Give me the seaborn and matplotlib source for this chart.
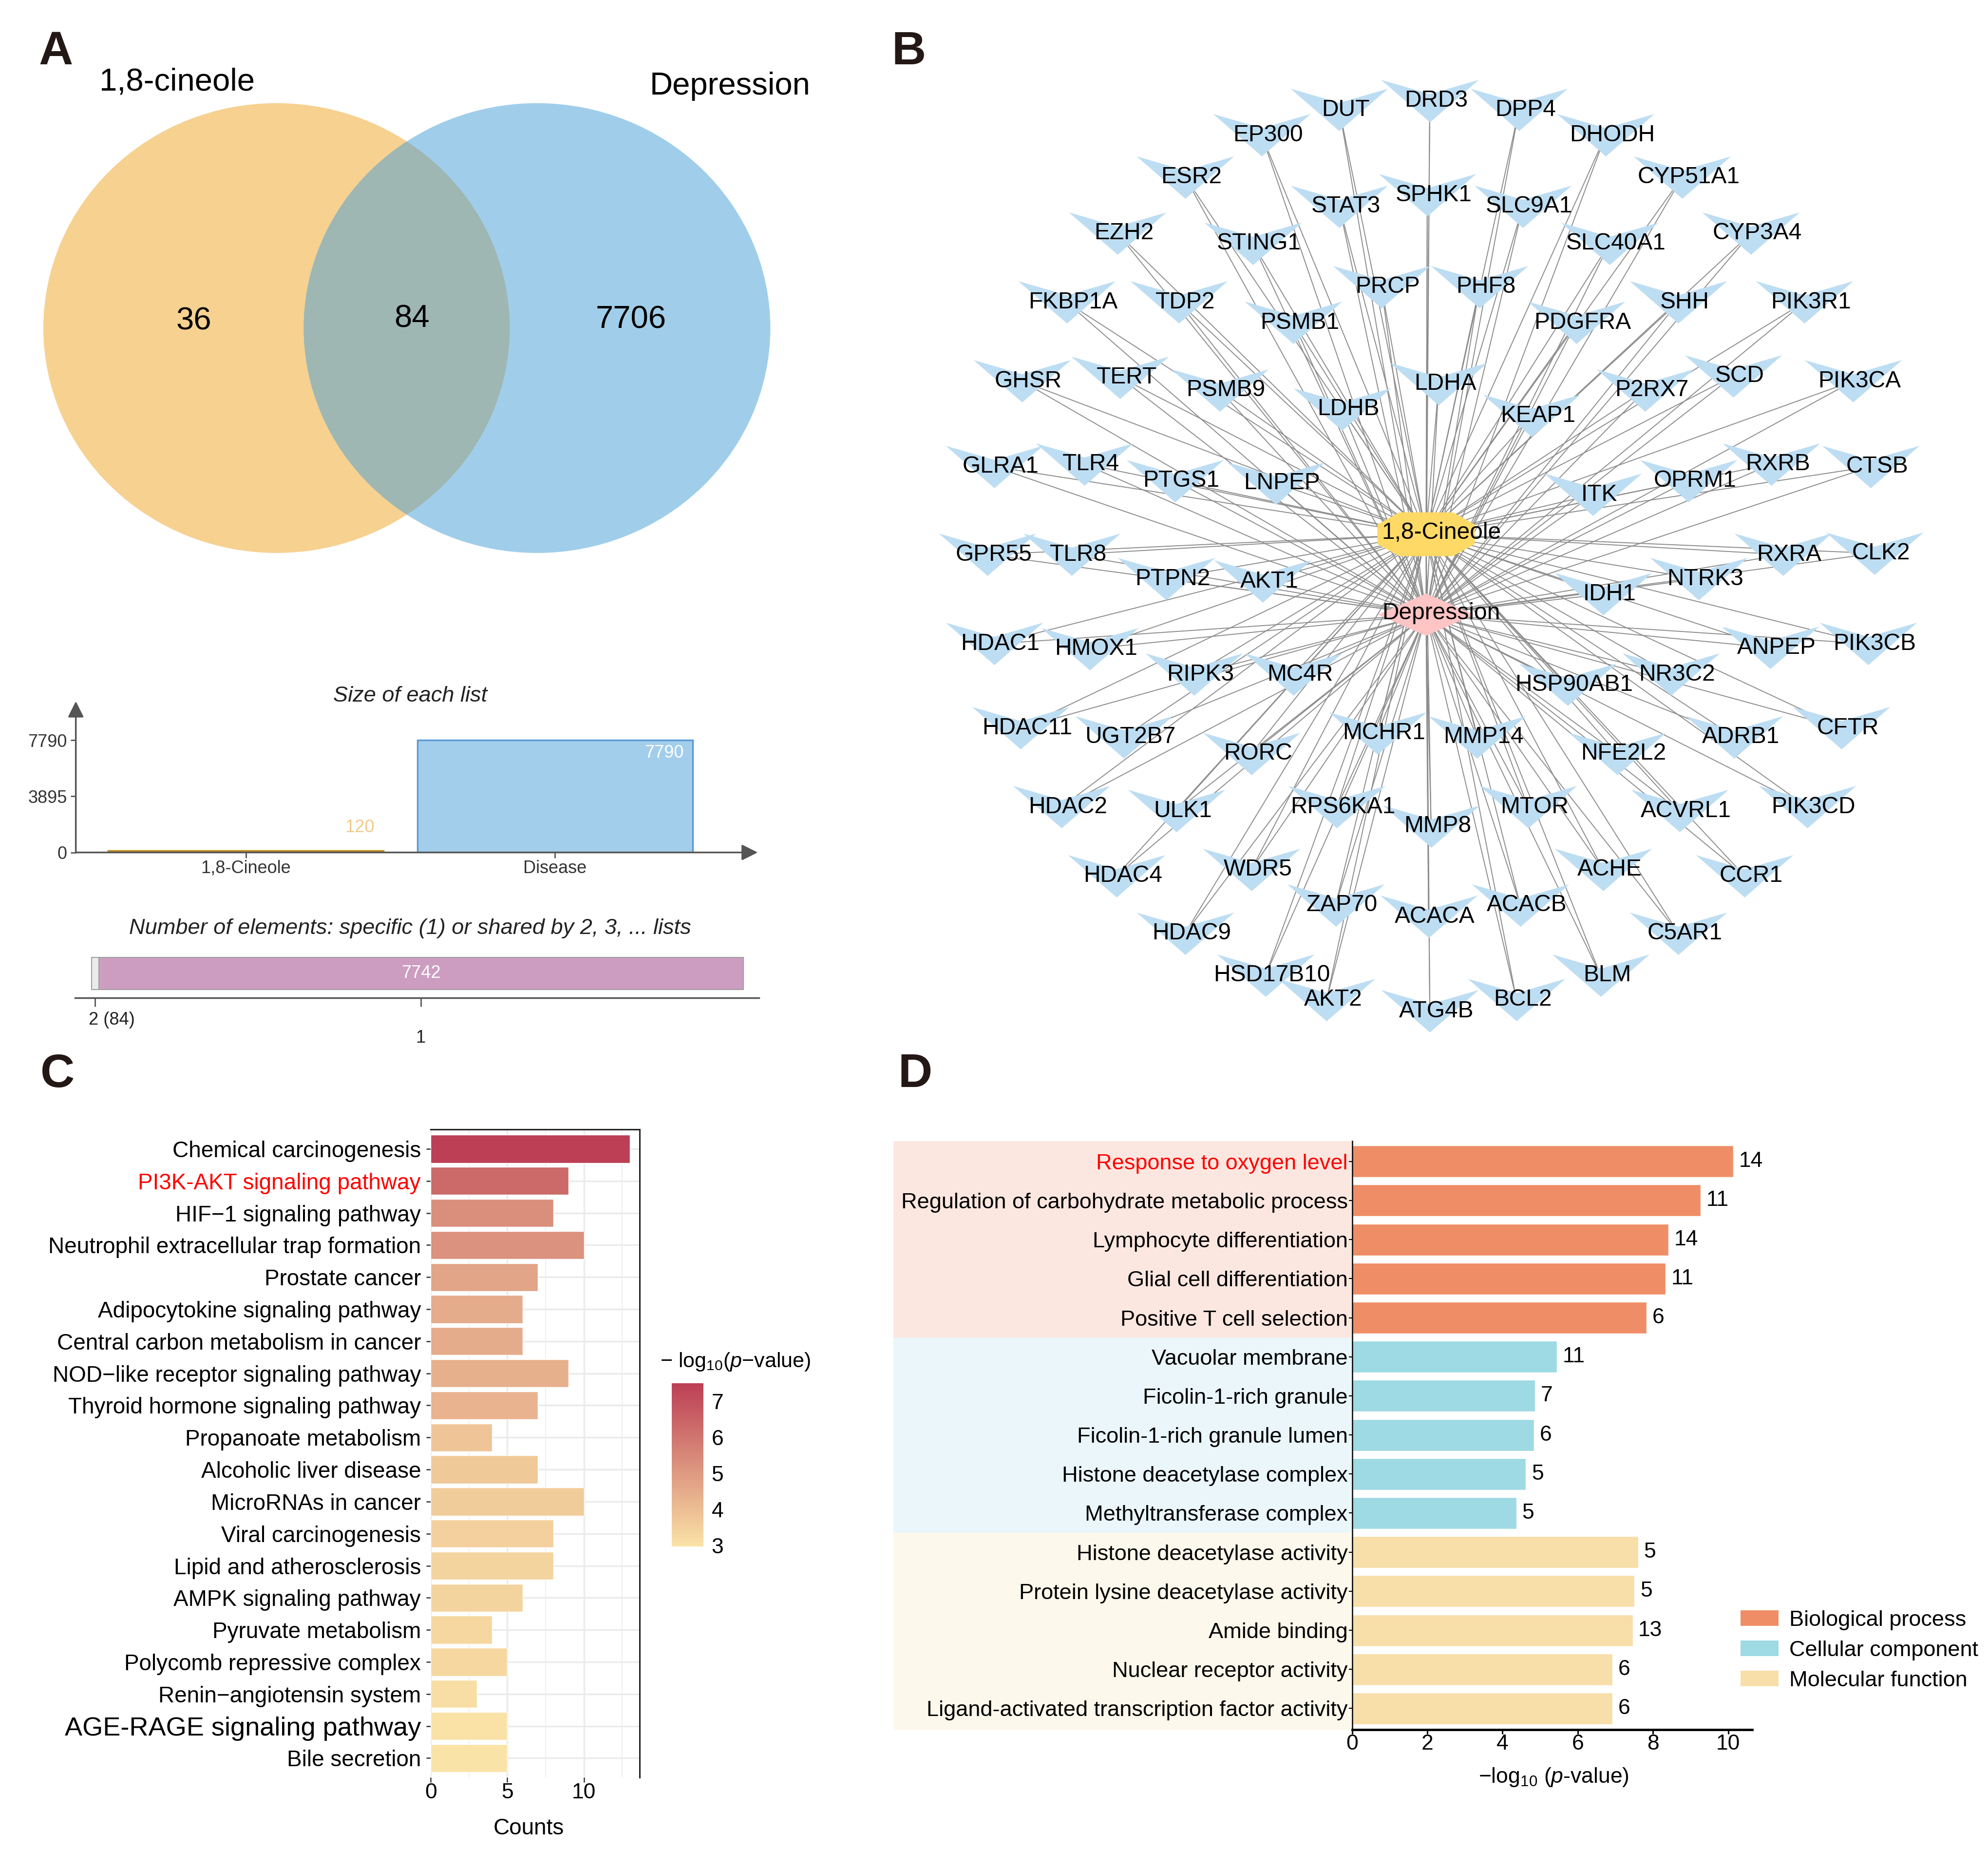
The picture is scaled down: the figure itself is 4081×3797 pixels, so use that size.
import numpy as np
import pandas as pd
import matplotlib
matplotlib.use("Agg")
import matplotlib.pyplot as plt
import seaborn as sns
from matplotlib.patches import Ellipse, Rectangle, Patch
from matplotlib.path import Path
from matplotlib.collections import LineCollection
from matplotlib.colors import LinearSegmentedColormap, Normalize
from matplotlib.cm import ScalarMappable
import matplotlib.transforms as mtransforms

# ------------------------------------------------------------------ data
venn_names = ["1,8-cineole", "Depression"]
venn_only_left = 36
venn_shared = 84
venn_only_right = 7706

list_names = ["1,8-Cineole", "Disease"]
list_sizes = [120, 7790]
list_ticks = [0, 3895, 7790]

share_levels = ["2 (84)", "1"]
share_counts = [84, 7742]

hub_names = ["1,8-Cineole", "Depression"]
hub_x = [1119, 1119]
hub_y = [419, 482]

target_names = [
    "DRD3", "DUT", "DPP4", "EP300", "DHODH", "ESR2", "CYP51A1", "EZH2", "CYP3A4",
    "FKBP1A", "PIK3R1", "GHSR", "PIK3CA", "GLRA1", "CTSB", "GPR55", "CLK2", "HDAC1",
    "PIK3CB", "HDAC11", "CFTR", "HDAC2", "PIK3CD", "HDAC4", "CCR1", "HDAC9", "C5AR1",
    "HSD17B10", "BLM", "AKT2", "BCL2", "ATG4B",
    "SPHK1", "STAT3", "SLC9A1", "STING1", "SLC40A1", "TDP2", "SHH", "TERT", "SCD",
    "TLR4", "RXRB", "TLR8", "RXRA", "HMOX1", "ANPEP", "UGT2B7", "ADRB1", "ULK1",
    "ACVRL1", "WDR5", "ACHE", "ZAP70", "ACACB", "ACACA",
    "PRCP", "PHF8", "PSMB1", "PDGFRA", "PSMB9", "P2RX7", "LDHB", "LDHA", "KEAP1",
    "PTGS1", "OPRM1", "LNPEP", "ITK", "PTPN2", "NTRK3", "AKT1", "IDH1", "RIPK3",
    "MC4R", "HSP90AB1", "NR3C2", "RORC", "NFE2L2", "MCHR1", "MMP14", "RPS6KA1",
    "MTOR", "MMP8"]
# layout positions of the target labels (network layout units)
target_x = [
    1127, 1056, 1197, 995, 1265, 935, 1325, 882, 1379,
    842, 1421, 807, 1459, 785, 1473, 780, 1476, 785,
    1471, 806, 1450, 838, 1423, 881, 1374, 935, 1322,
    998, 1261, 1046, 1195, 1127,
    1125, 1056, 1200, 988, 1268, 930, 1322, 884, 1365,
    856, 1395, 846, 1404, 860, 1394, 887, 1366, 928,
    1323, 987, 1263, 1053, 1198, 1126,
    1089, 1166, 1020, 1242, 962, 1296, 1058, 1134, 1207,
    927, 1330, 1006, 1255, 920, 1338, 996, 1263, 942,
    1020, 1235, 1316, 987, 1274, 1086, 1164, 1054,
    1204, 1128]
target_y = [
    79, 86, 86, 106, 106, 139, 139, 183, 183,
    237, 237, 299, 299, 366, 366, 435, 434, 505,
    505, 571, 571, 633, 633, 687, 687, 732, 732,
    765, 765, 784, 784, 793,
    153, 162, 162, 191, 191, 237, 237, 296, 295,
    364, 364, 435, 435, 509, 508, 578, 578, 636,
    636, 682, 682, 710, 710, 719,
    225, 225, 253, 253, 306, 306, 321, 301, 326,
    377, 377, 379, 388, 454, 454, 456, 466, 529,
    529, 537, 529, 591, 591, 575, 578, 633,
    633, 648]

kegg_terms = [
    "Chemical carcinogenesis", "PI3K-AKT signaling pathway", "HIF\u22121 signaling pathway",
    "Neutrophil extracellular trap formation", "Prostate cancer",
    "Adipocytokine signaling pathway", "Central carbon metabolism in cancer",
    "NOD\u2212like receptor signaling pathway", "Thyroid hormone signaling pathway",
    "Propanoate metabolism", "Alcoholic liver disease", "MicroRNAs in cancer",
    "Viral carcinogenesis", "Lipid and atherosclerosis", "AMPK signaling pathway",
    "Pyruvate metabolism", "Polycomb repressive complex", "Renin\u2212angiotensin system",
    "AGE-RAGE signaling pathway", "Bile secretion"]
kegg_counts = [13, 9, 8, 10, 7, 6, 6, 9, 7, 4, 7, 10, 8, 8, 6, 4, 5, 3, 5, 5]
kegg_logp = [7.5, 6.3, 5.3, 5.2, 4.7, 4.5, 4.5, 4.4, 4.3, 3.8,
             3.7, 3.6, 3.5, 3.4, 3.4, 3.3, 3.3, 3.1, 3.0, 2.97]

go_terms = [
    "Response to oxygen level", "Regulation of carbohydrate metabolic process",
    "Lymphocyte differentiation", "Glial cell differentiation",
    "Positive T cell selection", "Vacuolar membrane", "Ficolin-1-rich granule",
    "Ficolin-1-rich granule lumen", "Histone deacetylase complex",
    "Methyltransferase complex", "Histone deacetylase activity",
    "Protein lysine deacetylase activity", "Amide binding",
    "Nuclear receptor activity", "Ligand-activated transcription factor activity"]
go_logp = [10.13, 9.27, 8.41, 8.34, 7.83, 5.44, 4.86, 4.84, 4.62, 4.37,
           7.61, 7.51, 7.46, 6.92, 6.92]
go_counts = [14, 11, 14, 11, 6, 11, 7, 6, 5, 5, 5, 5, 13, 6, 6]
go_groups = ["Biological process"] * 5 + ["Cellular component"] * 5 + ["Molecular function"] * 5
group_names = ["Biological process", "Cellular component", "Molecular function"]
group_colors = ["#EF8E66", "#9EDAE3", "#F8DEA8"]
group_bands = ["#FCE7E0", "#EAF6FA", "#FCF8EB"]

# ------------------------------------------------------------------ style
sns.set_theme(style="white")
plt.rcParams["font.family"] = ["Liberation Sans", "DejaVu Sans"]
plt.rcParams["mathtext.fontset"] = "custom"
plt.rcParams["mathtext.rm"] = "Liberation Sans"
plt.rcParams["mathtext.it"] = "Liberation Sans:italic"
plt.rcParams["mathtext.bf"] = "Liberation Sans:bold"
plt.rcParams["text.color"] = "black"
plt.rcParams["axes.labelcolor"] = "black"
plt.rcParams["xtick.color"] = "black"
plt.rcParams["ytick.color"] = "black"

W, H = 1560.0, 1451.0


def R(x0, y0, x1, y1):
    return [x0 / W, 1 - y1 / H, (x1 - x0) / W, (y1 - y0) / H]


def P(x, y):
    return (x / W, 1 - y / H)


fig = plt.figure(figsize=(40.81, 37.97), dpi=100, facecolor="white")

# ------------------------------------------------------------------ panel A : Venn
axV = fig.add_axes(R(0, 0, 700, 470))
axV.set_xlim(0, 700)
axV.set_ylim(470, 0)
axV.axis("off")
left = Ellipse((217, 257.3), 366, 352.8, facecolor="#F6D190", edgecolor="none")
axV.add_patch(left)
right = Ellipse((421.4, 257.3), 366.2, 352.8, facecolor="#A0CEEA", edgecolor="none")
axV.add_patch(right)
inter = Ellipse((421.4, 257.3), 366.2, 352.8, facecolor="#9EB7B3", edgecolor="none")
axV.add_patch(inter)
inter.set_clip_path(left)
axV.text(152, 252, str(venn_only_left), fontsize=47, ha="center", va="center")
axV.text(323, 250, str(venn_shared), fontsize=47, ha="center", va="center")
axV.text(495, 251, str(venn_only_right), fontsize=47, ha="center", va="center")
axV.text(139, 71, venn_names[0], fontsize=47, ha="center", va="baseline")
axV.text(573, 74, venn_names[1], fontsize=47, ha="center", va="baseline")

# ------------------------------------------------------------------ panel A : list sizes
axA1 = fig.add_axes(R(59.5, 550, 594.6, 668.6))
sns.barplot(x=list_names, y=list_sizes, hue=list_names, palette=["#F6D190", "#A3CEEB"],
            saturation=1, width=0.89, legend=False, ax=axA1)
for patch, ec in zip(axA1.patches, ["#C48A1B", "#5B9BD5"]):
    patch.set_edgecolor(ec)
    patch.set_linewidth(2.5)
axA1.set_xlim(-0.55, 1.656)
axA1.set_ylim(0, 10487)
axA1.set_yticks(list_ticks)
axA1.set_yticklabels([str(t) for t in list_ticks])
for s in axA1.spines.values():
    s.set_visible(False)
axA1.set_facecolor("none")
axA1.tick_params(axis="both", bottom=True, left=True, length=8, width=2, color="#555555",
                 labelsize=26, labelcolor="#333333")
axA1.tick_params(axis="y", pad=5)
axA1.tick_params(axis="x", pad=3)
arrow_kw = dict(arrowstyle="-|>", color="#555555", lw=2.5, mutation_scale=50,
                shrinkA=0, shrinkB=0)
axA1.annotate("", xy=(0, 1), xytext=(0, 0), xycoords="axes fraction", arrowprops=arrow_kw)
axA1.annotate("", xy=(1, 0), xytext=(0, 0), xycoords="axes fraction", arrowprops=arrow_kw)
axA1.annotate(str(list_sizes[0]), xy=(0 + 0.445, list_sizes[0]), xytext=(-13, 34),
              textcoords="offset points", ha="right", va="center", fontsize=26, color="#F2C98A")
axA1.annotate(str(list_sizes[1]), xy=(1 + 0.445, list_sizes[1]), xytext=(-13, -19),
              textcoords="offset points", ha="right", va="center", fontsize=26, color="white")
fig.text(*P(321.7, 546), "Size of each list", fontsize=32.5, style="italic",
         ha="center", va="center", color="#222222")

# ------------------------------------------------------------------ panel A : shared elements
axA2 = fig.add_axes(R(59, 745, 595.5, 782.6))
lefts = np.concatenate([[0], np.cumsum(share_counts)[:-1]])
axA2.barh([0, 0], share_counts, left=lefts, height=1, color=["#EBEBEB", "#CC9DC0"],
          edgecolor="#A0A0A0", linewidth=1.5)
total = sum(share_counts)
axA2.set_xlim(-0.0254 * total, 1.0239 * total)
axA2.set_ylim(-0.764, 0.74)
centers = lefts + np.array(share_counts) / 2
axA2.set_xticks(centers)
axA2.set_xticklabels(["", ""])
axA2.set_yticks([])
for k, s in axA2.spines.items():
    s.set_visible(k == "bottom")
axA2.spines["bottom"].set_color("#555555")
axA2.spines["bottom"].set_linewidth(2.5)
axA2.set_facecolor("none")
axA2.tick_params(axis="x", bottom=True, length=13, width=2, color="#555555")
axA2.text(centers[1], 0, str(share_counts[1]), color="white", fontsize=26,
          ha="center", va="center")
fig.text(*P(69.5, 800), share_levels[0], fontsize=26, ha="left", va="center", color="#222222")
fig.text(*P(330, 814), share_levels[1], fontsize=26, ha="center", va="center", color="#222222")
fig.text(*P(321.7, 728), "Number of elements: specific (1) or shared by 2, 3, ... lists",
         fontsize=32.5, style="italic", ha="center", va="center", color="#222222")

# ------------------------------------------------------------------ panel B : network
axB = fig.add_axes(R(700, 20, 1560, 830))
axB.set_xlim(700, 1560)
axB.set_ylim(830, 20)
axB.axis("off")
node_x = np.array(target_x, dtype=float) - 5
node_y = np.array(target_y, dtype=float)
segs = []
for nx, ny in zip(node_x, node_y):
    for hx, hy in zip(hub_x, hub_y):
        segs.append([(nx, ny), (hx, hy)])
axB.add_collection(LineCollection(segs, colors="#8C8C8C", linewidths=1.4, zorder=1))

vee = Path([(-1, 0.435), (0, 0.145), (1, 0.435), (0, -0.435), (-1, 0.435)],
           [Path.MOVETO, Path.LINETO, Path.LINETO, Path.LINETO, Path.CLOSEPOLY])
octa_v = [(-0.55, -0.45), (0.55, -0.45), (1, -0.2), (1, 0.2), (0.55, 0.45),
          (-0.55, 0.45), (-1, 0.2), (-1, -0.2), (-0.55, -0.45)]
octa = Path(octa_v, [Path.MOVETO] + [Path.LINETO] * 7 + [Path.CLOSEPOLY])
diam = Path([(0, 0.44), (1, 0), (0, -0.44), (-1, 0), (0, 0.44)],
            [Path.MOVETO, Path.LINETO, Path.LINETO, Path.LINETO, Path.CLOSEPOLY])
dfN = pd.DataFrame({"x": node_x, "y": node_y, "name": target_names})
sns.scatterplot(data=dfN, x="x", y="y", marker=vee, s=144 ** 2, color="#BDDDF2",
                linewidth=0, ax=axB, zorder=2, legend=False)
axB.scatter([hub_x[0]], [hub_y[0]], marker=octa, s=144 ** 2, color="#FFD966",
            linewidths=0, zorder=2)
axB.scatter([hub_x[1]], [hub_y[1]], marker=diam, s=142 ** 2, color="#FFC4C4",
            linewidths=0, zorder=2)
axB.set_xlim(700, 1560)
axB.set_ylim(830, 20)
axB.set_xlabel("")
axB.set_ylabel("")
for name, x, y in zip(target_names, target_x, target_y):
    axB.text(x, y, name, fontsize=34.5, ha="center", va="center", zorder=3)
for name, x, y in zip(hub_names, hub_x, hub_y):
    axB.text(x + 12, y - 1, name, fontsize=34.5, ha="center", va="center", zorder=3)

# ------------------------------------------------------------------ panel C : KEGG
cmap = LinearSegmentedColormap.from_list("kegg", ["#FAE3A6", "#BC3F55"])
norm = Normalize(vmin=2.97, vmax=7.5)
dfC = pd.DataFrame({"term": kegg_terms, "count": kegg_counts, "logp": kegg_logp})
axC = fig.add_axes(R(338, 886, 502, 1394))
sns.barplot(data=dfC, x="count", y="term", hue="term",
            palette=[cmap(norm(v)) for v in kegg_logp], saturation=1, width=0.87,
            legend=False, ax=axC)
axC.set_xlim(0, 13.65)
axC.set_ylim(19.6, -0.6)
axC.set_xticks([0, 5, 10])
axC.set_xticks([2.5, 7.5, 12.5], minor=True)
axC.set_axisbelow(True)
axC.xaxis.grid(True, which="major", color="#EBEBEB", lw=2.5)
axC.xaxis.grid(True, which="minor", color="#F0F0F0", lw=1.6)
axC.yaxis.grid(True, which="major", color="#EBEBEB", lw=2.5)
axC.set_xlabel("")
axC.set_ylabel("")
for k in ["left", "bottom"]:
    axC.spines[k].set_visible(False)
for k in ["top", "right"]:
    axC.spines[k].set_visible(True)
    axC.spines[k].set_color("#222222")
    axC.spines[k].set_linewidth(2.2)
axC.tick_params(axis="y", left=True, length=6.5, width=1.8, color="#333333", pad=8, labelsize=33)
axC.tick_params(axis="x", which="major", bottom=True, length=7, width=1.8, color="#333333",
                pad=1, labelsize=32)
axC.tick_params(axis="x", which="minor", length=0)
for lab in axC.get_yticklabels():
    t = lab.get_text()
    if t.startswith("PI3K"):
        lab.set_color("#FF0000")
    if t.startswith("AGE-RAGE"):
        lab.set_fontsize(39)
fig.text(*P(415, 1434), "Counts", fontsize=33, ha="center", va="center")

cax = fig.add_axes(R(527, 1085, 552, 1213))
cb = fig.colorbar(ScalarMappable(norm=norm, cmap=cmap), cax=cax, orientation="vertical")
cb.outline.set_visible(False)
cb.set_ticks([3, 4, 5, 6, 7])
cb.minorticks_off()
cax.tick_params(axis="y", which="major", direction="in", length=9, width=2.5, color="white",
                left=True, right=True, labelleft=False, labelright=True, labelsize=32,
                labelcolor="black", pad=12)
fig.text(*P(518, 1068), "\u2212 log$_{10}$($\\mathit{p}$\u2212value)", fontsize=31,
         ha="left", va="center")

# ------------------------------------------------------------------ panel D : GO
dfD = pd.DataFrame({"term": go_terms, "logp": go_logp, "count": go_counts, "group": go_groups})
gcol = dict(zip(group_names, group_colors))
axD = fig.add_axes(R(1061, 895, 1375, 1356.5))
sns.barplot(data=dfD, x="logp", y="term", hue="term", palette=[gcol[g] for g in go_groups],
            saturation=1, width=0.81, legend=False, ax=axD)
ylo, yhi = -0.52, 14.54
axD.set_xlim(0, 10.64)
axD.set_ylim(yhi, ylo)
axD.set_xticks([0, 2, 4, 6, 8, 10])
axD.set_xlabel("")
axD.set_ylabel("")
axD.set_facecolor("none")
for k in ["top", "right"]:
    axD.spines[k].set_visible(False)
axD.spines["left"].set_color("black")
axD.spines["left"].set_linewidth(1.8)
axD.spines["bottom"].set_color("black")
axD.spines["bottom"].set_linewidth(3.5)
axD.tick_params(axis="x", bottom=True, length=6.5, width=2.2, color="black", pad=0, labelsize=32)
axD.tick_params(axis="y", left=True, length=5, width=1.5, color="black", pad=1.5, labelsize=32.5)
for lab in axD.get_yticklabels():
    if lab.get_text().startswith("Response"):
        lab.set_color("#FF0000")
for i, (v, c) in enumerate(zip(go_logp, go_counts)):
    axD.text(v + 0.15, i, str(c), ha="left", va="center", fontsize=32)
band_tr = mtransforms.blended_transform_factory(fig.transFigure, axD.transData)
n = len(go_terms)
for g, bc in zip(group_names, group_bands):
    idx = [i for i, gg in enumerate(go_groups) if gg == g]
    top = ylo if idx[0] == 0 else idx[0] - 0.5
    bot = yhi if idx[-1] == n - 1 else idx[-1] + 0.5
    axD.add_patch(Rectangle((701 / W, top), (1061 - 701) / W, bot - top, transform=band_tr,
                            facecolor=bc, edgecolor="none", clip_on=False, zorder=0.1))
handles = [Patch(facecolor=c, edgecolor="none", label=g) for g, c in zip(group_names, group_colors)]
fig.legend(handles=handles, loc="upper left", bbox_to_anchor=P(1366, 1263), frameon=False,
           fontsize=32.5, handlelength=1.72, handleheight=0.71, handletextpad=0.49,
           labelspacing=0.46, borderpad=0, borderaxespad=0)
fig.text(*P(1219, 1394), "\u2212log$_{10}$ ($\\mathit{p}$-value)", fontsize=32,
         ha="center", va="center")

# ------------------------------------------------------------------ panel letters
for letter, (x, y) in zip("ABCD", [(44, 41), (713, 41), (45, 843), (718, 843)]):
    fig.text(*P(x, y), letter, fontsize=70, fontweight="bold", ha="center", va="center",
             color="#231815")

fig.savefig("out.png", dpi=100, facecolor="white")
